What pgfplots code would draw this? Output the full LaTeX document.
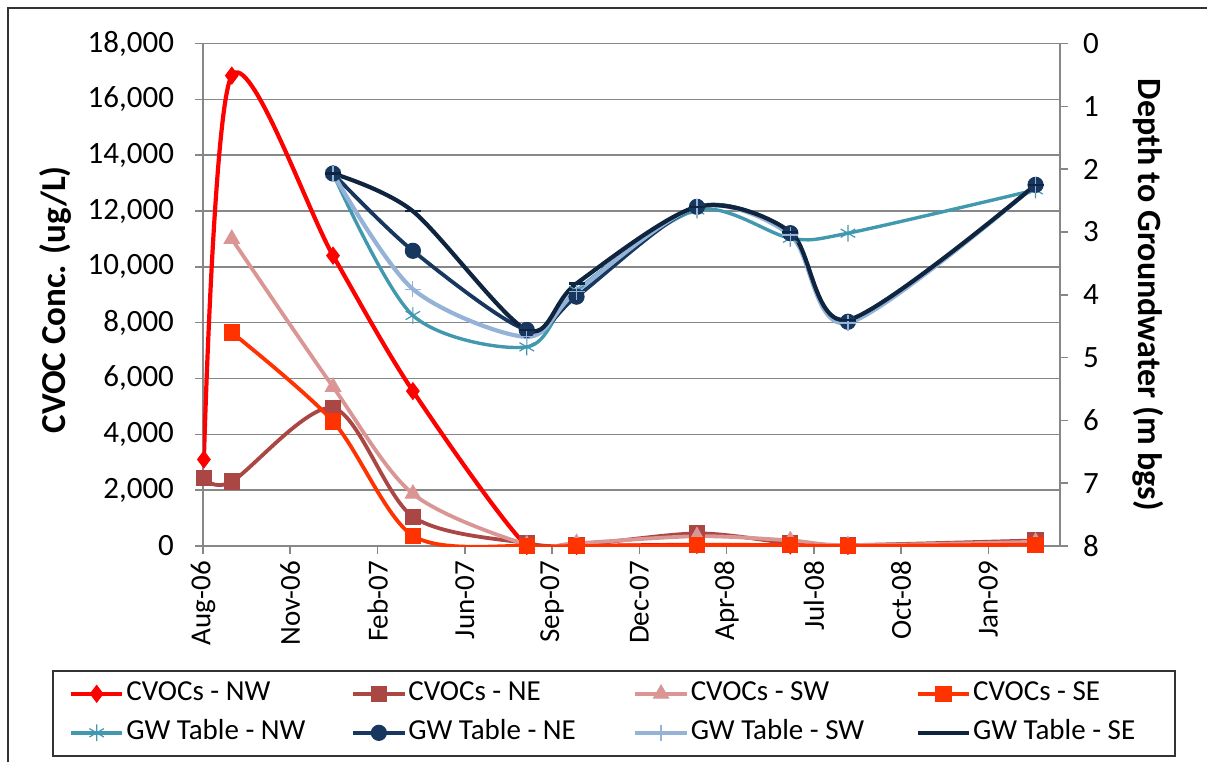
\documentclass[border=0pt]{standalone}
\usepackage{fontspec}
\setmainfont{Carlito}
\usepackage{pgfplots}
\pgfplotsset{compat=1.18}
\definecolor{cNW}{HTML}{FF0000}
\definecolor{cNE}{HTML}{AA4643}
\definecolor{cSW}{HTML}{DA9694}
\definecolor{cSE}{HTML}{FF3300}
\definecolor{gNW}{HTML}{4198AF}
\definecolor{gNE}{HTML}{17375E}
\definecolor{gSW}{HTML}{95B3D7}
\definecolor{gSE}{HTML}{0F243E}
\definecolor{gridgray}{HTML}{878787}
\pgfplotsset{
  cvocNW/.style={color=cNW, line width=2.1pt, smooth, tension=0.5, mark=diamond*, mark size=4.2pt, mark options={solid, line width=0.5pt}},
  cvocNE/.style={color=cNE, line width=1.9pt, smooth, tension=0.5, mark=square*, mark size=3.8pt, mark options={solid, line width=0.5pt}},
  cvocSW/.style={color=cSW, line width=1.9pt, smooth, tension=0.5, mark=triangle*, mark size=4.4pt, mark options={solid, line width=0.5pt}},
  cvocSE/.style={color=cSE, line width=1.9pt, smooth, tension=0.5, mark=square*, mark size=3.8pt, mark options={solid, line width=0.5pt}},
  gwNW/.style={color=gNW, line width=1.7pt, smooth, tension=0.5, mark=asterisk, mark size=4.2pt, mark options={solid, line width=0.6pt}},
  gwNE/.style={color=gNE, line width=1.9pt, smooth, tension=0.5, mark=*, mark size=3.8pt, mark options={solid, line width=0.5pt}},
  gwSW/.style={color=gSW, line width=2.1pt, smooth, tension=0.5, mark=+, mark size=4pt, mark options={solid, line width=0.6pt}},
  gwSE/.style={color=gSE, line width=2.1pt, smooth, tension=0.5, mark=-, mark size=4pt, mark options={solid, line width=1.2pt}},
}
\begin{document}
\begin{tikzpicture}[x=1pt,y=1pt]
\useasboundingbox (0,0) rectangle (603.5,-381);
\draw[line width=0.9pt, color=black!80] (4,-381) -- (4,-4) -- (603.5,-4);
\begin{axis}[
  at={(101.5pt,-21.75pt)}, anchor=north west,
  scale only axis, width=428.5pt, height=251.25pt,
  xmin=0, xmax=982, ymin=0, ymax=18000,
  axis x line*=bottom, axis y line*=left,
  xtick={0,100,200,300,400,500,600,700,800,900},
  xticklabels={Aug-06,Nov-06,Feb-07,Jun-07,Sep-07,Dec-07,Apr-08,Jul-08,Oct-08,Jan-09},
  xticklabel style={rotate=90, anchor=east, font=\fontsize{14.5}{17}\selectfont},
  ytick={0,2000,...,18000},
  scaled y ticks=false,
  yticklabel style={font=\fontsize{15.5}{18}\selectfont, xshift=-7pt, /pgf/number format/1000 sep={,}, /pgf/number format/assume math mode=true},
  ymajorgrids, grid style={gridgray, line width=0.8pt},
  tick align=outside, major tick length=4pt,
  axis line style={gridgray, line width=0.8pt},
  tick style={gridgray, line width=0.8pt},
  ylabel={\bfseries CVOC Conc. (ug/L)},
  ylabel style={font=\fontsize{17.5}{20}\selectfont, at={(axis description cs:-0.172,0.49)}, anchor=center},
]
\addplot[cvocNW] coordinates {(1,3100) (33,16850) (149,10400) (240.5,5550) (371,0) (428,0) (566,40) (673,20) (739,0) (954,150)};
\addplot[cvocNE] coordinates {(1,2430) (33,2310) (149,4940) (240.5,1050) (371,100) (428,30) (566,450) (673,100) (739,30) (954,200)};
\addplot[cvocSW] coordinates {(33,11000) (149,5700) (240.5,1870) (371,50) (428,100) (566,350) (673,200) (739,30) (954,150)};
\addplot[cvocSE] coordinates {(33,7650) (149,4460) (240.5,370) (371,0) (428,0) (566,30) (673,30) (739,0) (954,50)};
\end{axis}
\begin{axis}[
  at={(101.5pt,-21.75pt)}, anchor=north west,
  scale only axis, width=428.5pt, height=251.25pt,
  xmin=0, xmax=982, ymin=0, ymax=8, y dir=reverse,
  axis x line=none, axis y line*=right,
  ytick={0,1,...,8},
  yticklabel style={font=\fontsize{15.5}{18}\selectfont, xshift=4pt, /pgf/number format/assume math mode=true},
  tick align=outside, major tick length=4pt,
  axis line style={gridgray, line width=0.8pt},
  tick style={gridgray, line width=0.8pt},
  ylabel={\bfseries Depth to Groundwater (m bgs)},
  ylabel style={font=\fontsize{17}{20}\selectfont, at={(axis description cs:1.1027,0.5)}, anchor=center, rotate=180},
  legend columns=4,
  legend cell align=left,
  legend image code/.code={\draw[mark repeat=2, mark phase=2, #1] plot coordinates {(0pt,0pt) (12.8pt,0pt) (25.6pt,0pt)};},
  legend style={at={(axis description cs:-0.176,-0.2468)}, anchor=north west,
    draw=black!80, line width=0.8pt, font=\fontsize{14.5}{17}\selectfont,
    inner xsep=8pt, inner ysep=4pt,
    nodes={inner sep=1pt, text height=10pt, text depth=3pt},
    row sep=4.5pt},
]
\addlegendimage{cvocNW}\addlegendentry{\makebox[111.5pt][l]{CVOCs - NW}}
\addlegendimage{cvocNE}\addlegendentry{\makebox[111.5pt][l]{CVOCs - NE}}
\addlegendimage{cvocSW}\addlegendentry{\makebox[111.5pt][l]{CVOCs - SW}}
\addlegendimage{cvocSE}\addlegendentry{\makebox[92pt][l]{CVOCs - SE}}
\addplot[gwNW] coordinates {(149,2.07) (240.5,4.33) (371,4.83) (428,3.93) (566,2.65) (673,3.1) (739,3.02) (954,2.33)};
\addlegendentry{\makebox[111.5pt][l]{GW Table - NW}}
\addplot[gwNE] coordinates {(149,2.07) (240.5,3.30) (371,4.56) (428,4.03) (566,2.6) (673,3.02) (739,4.43) (954,2.25)};
\addlegendentry{\makebox[111.5pt][l]{GW Table - NE}}
\addplot[gwSW] coordinates {(149,2.07) (240.5,3.91) (371,4.67) (428,3.95) (566,2.6) (673,3.05) (739,4.45) (954,2.25)};
\addlegendentry{\makebox[111.5pt][l]{GW Table - SW}}
\addplot[gwSE] coordinates {(149,2.07) (240.5,2.67) (371,4.56) (428,3.82) (566,2.6) (673,3.0) (739,4.4) (954,2.25)};
\addlegendentry{\makebox[92pt][l]{GW Table - SE}}
\end{axis}
\end{tikzpicture}
\end{document}
